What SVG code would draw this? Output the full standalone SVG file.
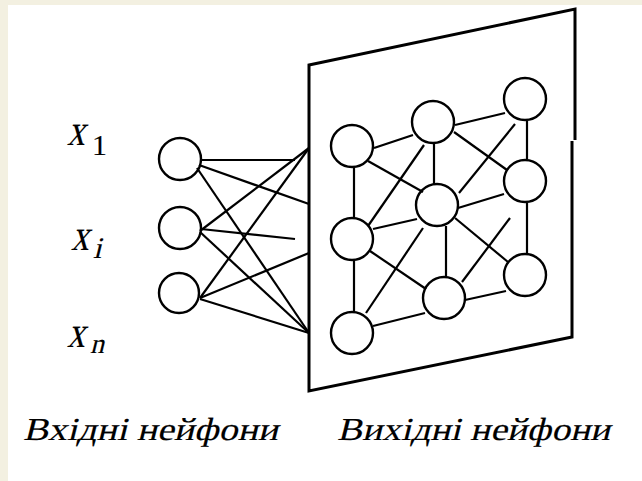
<svg xmlns="http://www.w3.org/2000/svg" width="642" height="481" viewBox="0 0 642 481">
<style>
.n{fill:none;stroke:#000;stroke-width:2.4}
.c line{stroke:#000;stroke-width:2.2;fill:none}
.pl{fill:none;stroke:#000;stroke-width:3}
.t{font-family:"Liberation Serif","DejaVu Serif",serif;font-style:normal;fill:#000;stroke:#000;stroke-width:0.15}
</style>
<rect x="0" y="0" width="642" height="481" fill="#F3F0E1"/>
<rect x="8" y="5" width="634" height="476" fill="#fff"/>
<g id="plane">
<polyline class="pl" points="575,140 575,9 309,65 309,391 572,337 572,141"/>
</g>
<g id="connectors" class="c">
<line x1="201" y1="160" x2="295" y2="160"/>
<line x1="199" y1="165" x2="309" y2="204"/>
<line x1="197" y1="168" x2="309" y2="333"/>
<line x1="200" y1="231" x2="309" y2="148"/>
<line x1="201" y1="229" x2="295" y2="239"/>
<line x1="200" y1="232" x2="309" y2="333"/>
<line x1="200" y1="298" x2="309" y2="148"/>
<line x1="200" y1="298" x2="309" y2="253"/>
<line x1="200" y1="299" x2="309" y2="333"/>
<line x1="374" y1="148" x2="413" y2="135"/>
<line x1="455" y1="125" x2="505" y2="113"/>
<line x1="527" y1="121" x2="527" y2="159"/>
<line x1="434" y1="144" x2="434" y2="184"/>
<line x1="354" y1="167" x2="354" y2="218"/>
<line x1="368" y1="161" x2="423" y2="192"/>
<line x1="424" y1="145" x2="368" y2="226"/>
<line x1="454" y1="132" x2="507" y2="170"/>
<line x1="515" y1="124" x2="459" y2="193"/>
<line x1="458" y1="208" x2="504" y2="194"/>
<line x1="373" y1="229" x2="417" y2="219"/>
<line x1="446" y1="226" x2="446" y2="277"/>
<line x1="527" y1="203" x2="527" y2="254"/>
<line x1="455" y1="218" x2="508" y2="262"/>
<line x1="510" y1="218" x2="462" y2="282"/>
<line x1="370" y1="251" x2="426" y2="289"/>
<line x1="423" y1="228" x2="366" y2="313"/>
<line x1="354" y1="260" x2="354" y2="312"/>
<line x1="373" y1="326" x2="425" y2="313"/>
<line x1="465" y1="300" x2="506" y2="291"/>
</g>
<g id="in1"><circle class="n" cx="180" cy="159" r="21"/></g>
<g id="in2"><circle class="n" cx="180" cy="228" r="21"/></g>
<g id="in3"><circle class="n" cx="179" cy="293" r="20"/></g>
<g id="outA"><circle class="n" cx="352" cy="146" r="21"/></g>
<g id="outB"><circle class="n" cx="433" cy="122" r="21"/></g>
<g id="outC"><circle class="n" cx="525" cy="99" r="21"/></g>
<g id="outF"><circle class="n" cx="352" cy="239" r="21"/></g>
<g id="outD"><circle class="n" cx="437" cy="205" r="21"/></g>
<g id="outE"><circle class="n" cx="525" cy="181" r="21"/></g>
<g id="outG"><circle class="n" cx="352" cy="333" r="21"/></g>
<g id="outH"><circle class="n" cx="444" cy="298" r="21"/></g>
<g id="outI"><circle class="n" cx="525" cy="275" r="21"/></g>
<g id="labels">
<g transform="translate(67,145) skewX(-14) scale(0.8,1)"><text class="t" x="0" y="0" font-size="44">x</text></g>
<text class="t" x="92" y="155" font-size="30">1</text>
<g transform="translate(71,250) skewX(-14) scale(0.8,1)"><text class="t" x="0" y="0" font-size="44">x</text></g>
<g transform="translate(93,258) skewX(-14)"><text class="t" x="0" y="0" font-size="30">i</text></g>
<g transform="translate(67,347) skewX(-14) scale(0.8,1)"><text class="t" x="0" y="0" font-size="44">x</text></g>
<g transform="translate(90,353) skewX(-14)"><text class="t" x="0" y="0" font-size="28">n</text></g>
<g transform="translate(23,440) skewX(-14)"><text class="t" x="0" y="0" font-size="32" textLength="255" lengthAdjust="spacingAndGlyphs">Вхідні нейфони</text></g>
<g transform="translate(337,440) skewX(-14)"><text class="t" x="0" y="0" font-size="32" textLength="273" lengthAdjust="spacingAndGlyphs">Вихідні нейфони</text></g>
</g>
</svg>
